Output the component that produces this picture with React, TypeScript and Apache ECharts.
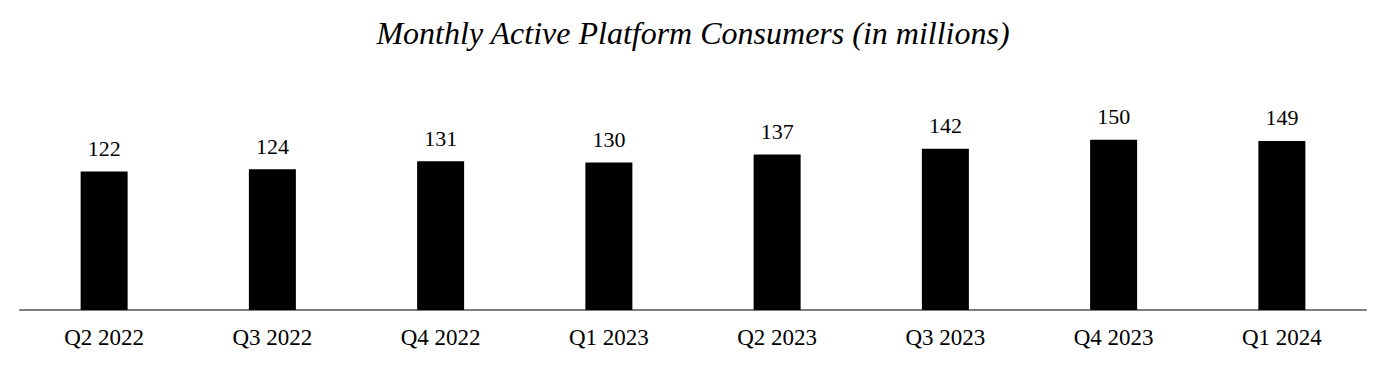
import React, { useEffect, useRef } from "react";
import * as echarts from "echarts";

const categories = ["Q2 2022", "Q3 2022", "Q4 2022", "Q1 2023", "Q2 2023", "Q3 2023", "Q4 2023", "Q1 2024"];
const consumers = [122, 124, 131, 130, 137, 142, 150, 149];
const titleText = "Monthly Active Platform Consumers (in millions)";

const FONT = '"Liberation Serif", "Times New Roman", serif';

export default function App() {
  const ref = useRef<HTMLDivElement>(null);
  useEffect(() => {
    if (!ref.current) return;
    const chart = echarts.init(ref.current, undefined, { renderer: "svg" });
    chart.setOption({
      animation: false,
      backgroundColor: "#ffffff",
      title: {
        text: titleText,
        left: "center",
        top: 12,
        textStyle: {
          fontFamily: FONT,
          fontStyle: "italic",
          fontWeight: "normal",
          fontSize: 32,
          color: "#000000",
        },
      },
      grid: { left: 20, right: 20, top: 83, bottom: 62, containLabel: false },
      xAxis: {
        type: "category",
        data: categories,
        axisLine: { show: true, lineStyle: { color: "#7f7f7f", width: 2 } },
        axisTick: { show: false },
        axisLabel: {
          fontFamily: FONT,
          fontSize: 23,
          color: "#000000",
          margin: 16,
          interval: 0,
        },
      },
      yAxis: {
        type: "value",
        min: 0,
        max: 200,
        show: false,
        splitLine: { show: false },
      },
      series: [
        {
          type: "bar",
          data: consumers,
          barWidth: 47,
          itemStyle: { color: "#000000" },
          label: {
            show: true,
            position: "top",
            distance: 12,
            fontFamily: FONT,
            fontSize: 22,
            color: "#000000",
          },
        },
      ],
    });
    return () => chart.dispose();
  }, []);
  return (
    <div
      ref={ref}
      style={{ position: "fixed", left: 0, top: 0, width: 1386, height: 372 }}
    />
  );
}
